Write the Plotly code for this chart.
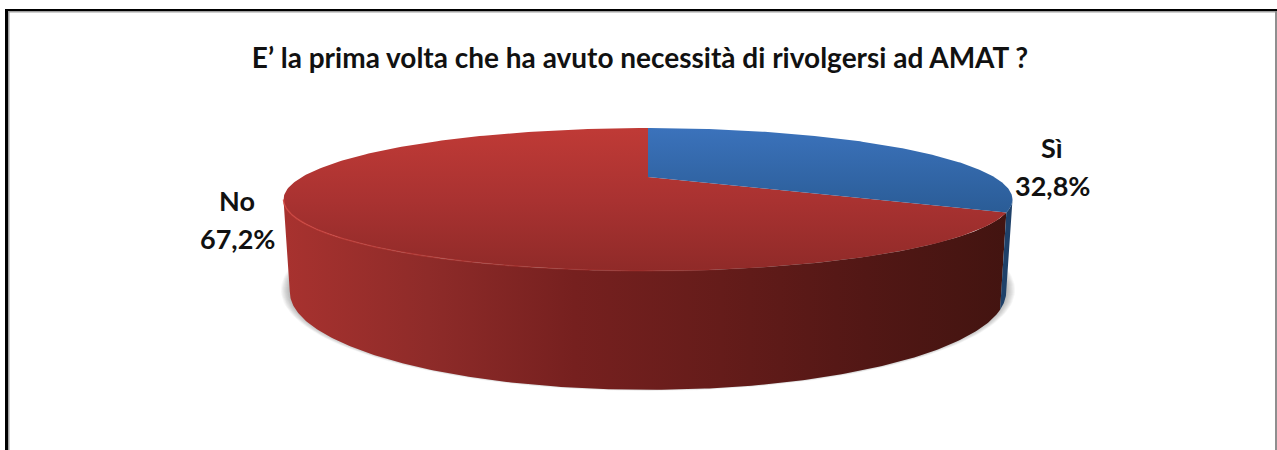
import numpy as np
import plotly.graph_objects as go

# Survey answers
categories = ["Sì", "No"]
shares = [32.8, 67.2]
question = "E’ la prima volta che ha avuto necessità di rivolgersi ad AMAT ?"

W, H = 1277, 450
CX = 648.0
PERSPECTIVE = 0.3146


def project(t_deg, radius, amp, hub_y):
    """Perspective view of a pie rim; t runs clockwise from 12 o'clock."""
    t = np.radians(t_deg)
    w = 1 + PERSPECTIVE * np.cos(t)
    return CX + radius * np.sin(t) / w, hub_y - amp * np.cos(t) / w


TOP = dict(radius=346.0, amp=64.4, hub_y=177.0)
BASE = dict(radius=340.0, amp=88.3, hub_y=261.0)


def arc(t0, t1, plane, n=240):
    return project(np.linspace(t0, t1, n), **plane)


def polygon(fig, xs, ys, **kw):
    fig.add_trace(go.Scatter(
        x=np.append(xs, xs[0]), y=np.append(ys, ys[0]), mode="lines",
        line=dict(width=0), fill="toself", hoverinfo="skip", showlegend=False, **kw))


def gradient(kind, start, stop, stops):
    scale = [[i / (len(stops) - 1), c] for i, c in enumerate(stops)]
    return dict(type=kind, start=start, stop=stop, colorscale=scale)


# Slice boundaries follow the shares, clockwise from 12 o'clock
split = 360 * shares[0] / sum(shares)
tangent = np.degrees(np.arccos(-PERSPECTIVE))

fig = go.Figure()

# Soft drop shadow beneath the disc
for i in range(10):
    grow = 1 - i / 9
    a = np.linspace(0, 360, 240)
    xs = CX + (358 + 9 * grow) * np.sin(np.radians(a))
    ys = 290 + (98 + 3 * grow) * np.cos(np.radians(a))
    polygon(fig, xs, ys, fillcolor="rgba(70,70,70,0.05)")

# Side wall: the part of each slice that faces the viewer
x1, y1 = arc(split, 360 - tangent, TOP)
x2, y2 = arc(360 - tangent, split, BASE)
polygon(fig, np.r_[x1, x2], np.r_[y1, y2],
        fillgradient=gradient("horizontal", 283, 1012,
                              ["#a8322f", "#8e2b29", "#76201f", "#651c1a", "#521715", "#421410"]))
x1, y1 = arc(tangent, split, TOP, 40)
x2, y2 = arc(split, tangent, BASE, 40)
polygon(fig, np.r_[x1, x2], np.r_[y1, y2], fillcolor="#1f4169")

# Top faces
x, y = arc(split, 360, TOP)
polygon(fig, np.r_[CX, x], np.r_[TOP["hub_y"], y],
        fillgradient=gradient("vertical", 129, 272, ["#bf3a36", "#a93231", "#8f2a28"]))
x, y = arc(0, split, TOP)
polygon(fig, np.r_[CX, x], np.r_[TOP["hub_y"], y],
        fillgradient=gradient("vertical", 129, 213, ["#3b72bb", "#2a5c96"]))

# Lit bevel along the front of the top face, fading towards the right
steps = 24
edges = np.linspace(360 - tangent, 165, steps + 1)
for i in range(steps):
    x, y = arc(edges[i], edges[i + 1], TOP, 12)
    fade = 1 - i / steps
    fig.add_trace(go.Scatter(
        x=x, y=y, mode="lines", hoverinfo="skip", showlegend=False,
        line=dict(width=1.6, color=f"rgba(208,70,64,{0.85 * fade:.3f})")))

# Data labels: category name above its percentage
label_font = dict(family="Lato", size=27, color="#111111", weight="bold")
label_spots = [(1052, 147, 185), (237, 200, 238)]
for name, val, (lx, y_name, y_val) in zip(categories, shares, label_spots):
    for text, ly in ((name, y_name), (f"{val:.1f}%".replace(".", ","), y_val)):
        fig.add_annotation(x=lx, y=ly, text=text, showarrow=False, font=label_font,
                           xanchor="center", yanchor="middle")

# Outer frame: heavy top and left edges, thin grey inner line
frame = [
    (5, 9, 8, H, "#000000"), (5, 9, W, 11, "#000000"),
    (8, 11, 9.5, H, "#a0a0a0"), (8, 11, W, 12.5, "#a0a0a0"),
    (1275, 11, W, H, "#8f8f8f"),
]
shapes = [dict(type="rect", x0=a, y0=b, x1=c, y1=d, fillcolor=col, line_width=0, layer="above")
          for a, b, c, d, col in frame]

fig.update_layout(
    width=W, height=H, margin=dict(l=0, r=0, t=0, b=0),
    paper_bgcolor="white", plot_bgcolor="white", showlegend=False, shapes=shapes,
    title=dict(text=f"<b>{question}</b>", x=640 / W, xanchor="center", y=1 - 58 / H, yanchor="middle",
               font=dict(family="Lato", size=28, color="#111111")),
    xaxis=dict(range=[0, W], visible=False, fixedrange=True),
    yaxis=dict(range=[H, 0], visible=False, fixedrange=True),
)

fig.write_html("out.html", config=dict(displayModeBar=False))
